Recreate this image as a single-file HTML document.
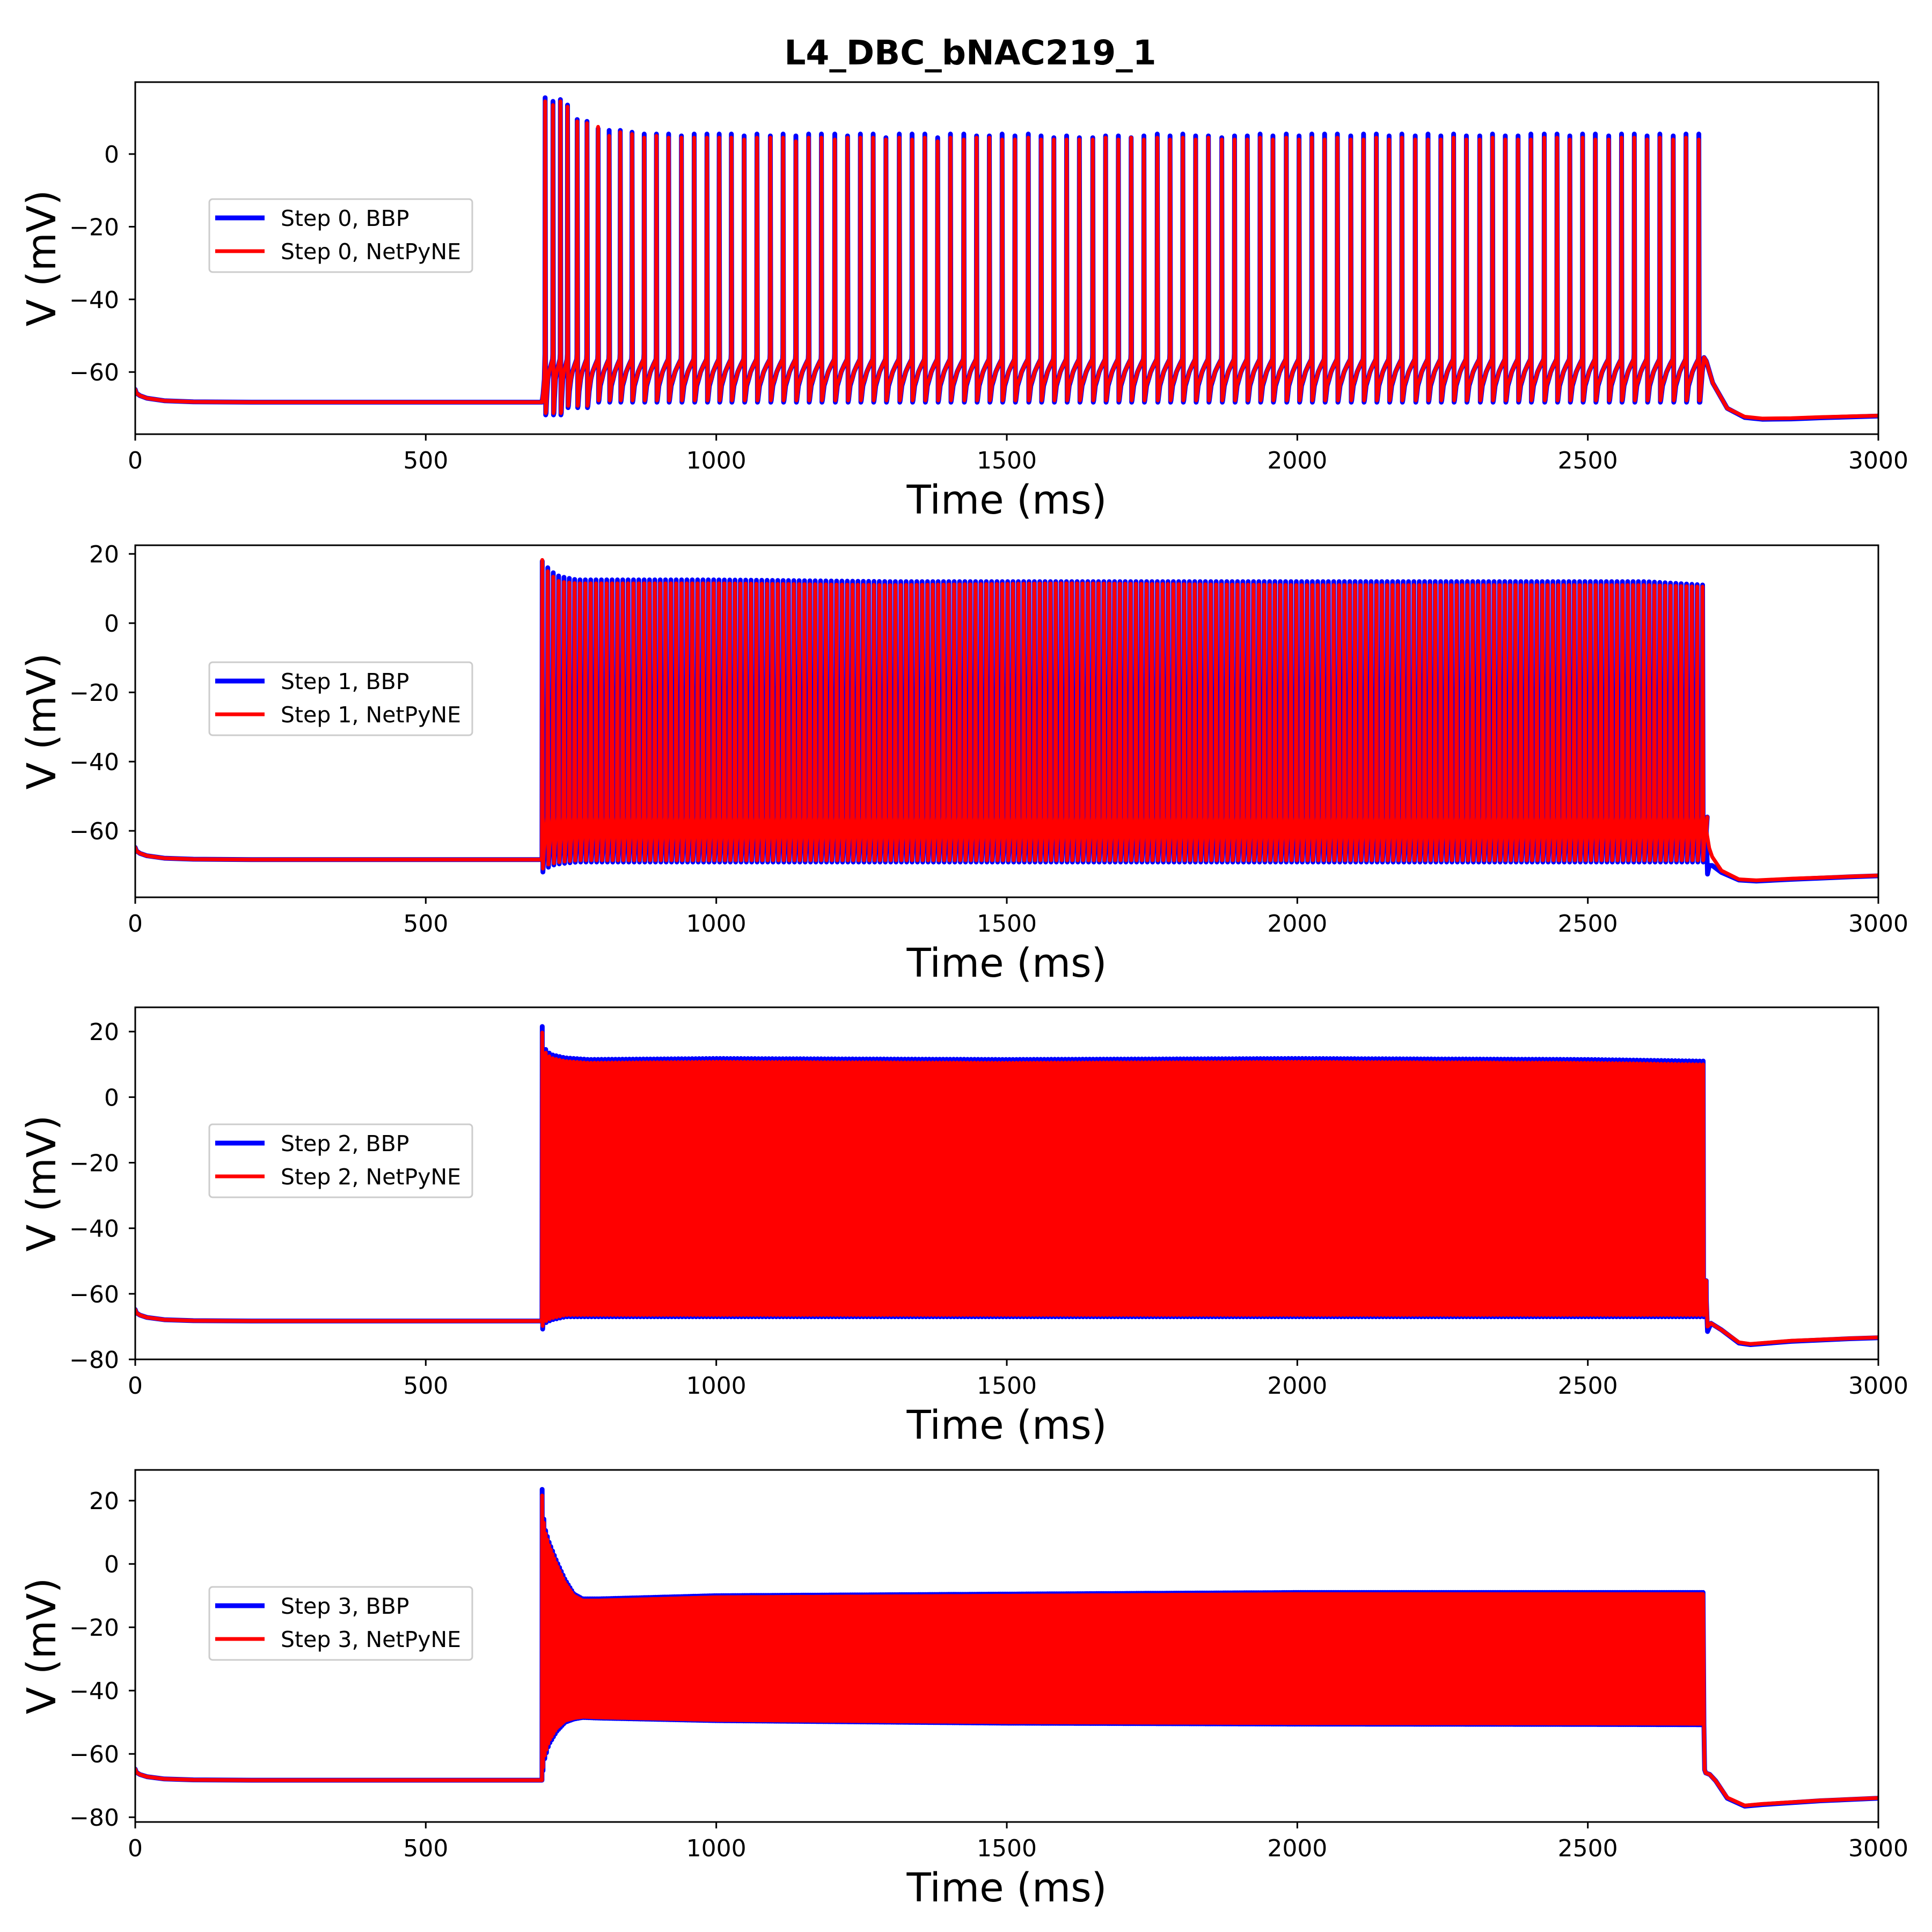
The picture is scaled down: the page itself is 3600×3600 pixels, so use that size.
<!DOCTYPE html>
<html><head><meta charset="utf-8">
<style>
html,body{margin:0;padding:0;background:#fff;}
svg{display:block;font-family:"DejaVu Sans","Liberation Sans",sans-serif;}
</style></head>
<body>
<svg id="fig" width="3600" height="3600" viewBox="0 0 3600 3600" xmlns="http://www.w3.org/2000/svg">
<rect width="3600" height="3600" fill="#fff"/>
<text x="1808" y="120" text-anchor="middle" font-size="63" font-weight="bold">L4_DBC_bNAC219_1</text>
</svg>
<script>
// ---------- data ----------
const xTicks = [0, 500, 1000, 1500, 2000, 2500, 3000];
const yTicks1 = [0, -20, -40, -60];
const yTicks2 = [20, 0, -20, -40, -60];
const yTicks3 = [20, 0, -20, -40, -60, -80];
const yTicks4 = [20, 0, -20, -40, -60, -80];
const yLims = [[-77.1, 19.8], [-79.2, 22.5], [-80, 27.4], [-81.5, 29.7]];
const stepNames = ["Step 0", "Step 1", "Step 2", "Step 3"];

// resting baseline before stimulus (all panels)
const restT = [0, 2, 8, 20, 50, 100, 200, 700];
const restV = [-64.8, -65.8, -66.5, -67.2, -67.9, -68.2, -68.3, -68.3];

// Panel 1 (Step 0): individual spikes
const spikeT1 = [705.5,719,731.7,744,760.6,777.5,796.6,815.7,834.8,855,876,897,918,940,962,984,1005,
1026,1048,1070,1093,1115,1137,1159,1181,1204,1226,1248,1270,1292,1315,1337,1359,1381,1403,1426,1448,1470,1492,1514,1537,1559,1581,1603,1625,1648,1670,1692,1714,1736,1759,1781,1803,1825,1847,1870,1892,1914,1936,1958,1981,2003,2025,2047,2069,2092,2114,2136,2158,2180,2203,2225,2247,2269,2291,2314,2336,2358,2380,2402,2425,2447,2469,2491,2513,2536,2558,2580,2602,2624,2647,2669,2691];
const peakB1 = [15.5,14.5,15,13.5,9.5,9,7,6.5,6.5,6,5.5,5.5,5.5,5,5.5,5.5,5.5,
5.5,5,5.5,5,5.5,5,5.5,5.5,5.5,5,5.5,5.5,4.5,5.5,5.5,5.5,4.5,5.5,5.5,5,5,5.5,5,5.5,5,4.5,5,4.5,4.5,5,5,4.5,5,5.5,5,5.5,5,5,4.5,5,5,5.5,5,5.5,5,5.5,5.5,5.5,5,5.5,5.5,5,5.5,5,5.5,5,5.5,5,5,5.5,5,5,5.5,5.5,5.5,5,5.5,5.5,5,5.5,5.5,5,5.5,5,5.5,5.5];
const peakN1 = [14.5,13.5,14.5,13,9,8.5,7.5,5,6,5.5,4.5,5,4.5,4.5,4.5,4.5,4.5,
4.5,4,4.5,4.5,4.5,3.5,4.5,4.5,4,4.5,4.5,4.5,4,4.5,4,4.5,3.5,4.5,4,4.5,4.5,4,4,4.5,4,4,4,4,4,4.5,4,4.5,4,4.5,4,4.5,4,4.5,4,4,4,4.5,4,4.5,4,4.5,4,4.5,4,4,4.5,4,4.5,4,4,4,4.5,4,4,4.5,4,4,4,4.5,4.5,4,4.5,4,4,4.5,4.5,4,4.5,4,4.5,4];
const troughB1 = -68.3, troughN1 = -67.8;
const tailT1 = [2693, 2697, 2700, 2704, 2715, 2740, 2770, 2800, 2850, 2900, 3000];
const tailVB1 = [-68.3, -60, -56, -57, -63, -70, -72.5, -73, -72.9, -72.6, -72.1];
const tailVN1 = [-67.8, -60, -56, -57, -63, -70, -72.3, -72.8, -72.7, -72.4, -72];

// Panels 2 & 3 : dense spiking, envelopes sampled on a time grid
const gridT2 = [700, 705, 715, 730, 760, 800, 1000, 1300, 1600, 2000, 2300, 2600, 2700];
const isi2 = [9.5, 9.5, 9.3, 9.2, 9.2, 9.2, 9.2, 9.2, 9.2, 9.2, 9.2, 9.2, 9.2];
const peakB2 = [18, 17, 15, 13.5, 12.5, 12.5, 12.5, 12, 12, 12, 12, 12, 11];
const peakN2 = [18.5, 16, 14, 12, 11.5, 11.5, 11.5, 11, 11.5, 11, 11, 11, 10.5];
const troughB2 = [-72, -71, -70, -69.5, -69, -69, -69, -69, -69, -69, -69, -69, -69];
const troughN2 = [-71, -70, -69.5, -69, -68.5, -68.5, -68.5, -68.5, -68.5, -68.5, -68.5, -68.5, -68.5];
const tailT2 = [2704, 2706, 2709, 2714, 2730, 2760, 2790, 2850, 2950, 3000];
const tailVB2 = [-60, -72.5, -70, -70, -72, -74.2, -74.5, -74, -73.3, -73];
const tailVN2 = [-60, -62, -65, -67.5, -71.5, -74, -74.3, -73.8, -73.2, -72.9];

const gridT3 = [700, 704, 715, 740, 780, 1000, 1500, 2000, 2500, 2700];
const isi3 = [6, 6, 6, 6, 6, 6, 6, 6, 6, 6];
const peakB3 = [22.5, 15, 13, 12, 11.5, 11.8, 11.5, 11.8, 11.5, 11];
const peakN3 = [20.5, 14, 12, 11, 10.5, 10.8, 10.5, 10.8, 10.5, 10];
const troughB3 = [-71, -69, -68, -67, -67, -67, -67, -67, -67, -67];
const troughN3 = [-70, -68.5, -67.5, -66.5, -66.5, -66.5, -66.5, -66.5, -66.5, -66.5];
const tailT3 = [2704, 2706, 2712, 2730, 2760, 2780, 2850, 2950, 3000];
const tailVB3 = [-62, -71.5, -69, -71, -75, -75.5, -74.5, -73.7, -73.4];
const tailVN3 = [-62, -70, -69, -71, -74.8, -75.3, -74.3, -73.6, -73.3];

// Panel 4 : depolarization block oscillation envelopes
const gridT4 = [700, 704, 712, 725, 740, 755, 770, 800, 1000, 1500, 2000, 2500, 2700];
const isi4 = [3, 3, 3, 3, 3, 3, 3, 3, 3, 3, 3, 3, 3];
const upperB4 = [24.5, 12, 7, 1, -5, -9.5, -11, -11, -10, -9.5, -9, -9, -9];
const upperN4 = [22.5, 11, 6, 0, -6, -10, -11.5, -11.5, -10.5, -10, -9.5, -9.5, -9.5];
const lowerB4 = [-68, -62, -57, -53, -50, -49, -48.5, -48.7, -49.5, -50.3, -50.6, -50.7, -50.8];
const lowerN4 = [-67, -61, -56, -52, -49.5, -48.7, -48.3, -48.5, -49.3, -50, -50.3, -50.4, -50.5];
const tailT4 = [2701, 2703, 2710, 2720, 2740, 2770, 2800, 2900, 3000];
const tailVB4 = [-65, -66, -66.5, -68.5, -74, -76.5, -76, -74.8, -74];
const tailVN4 = [-65, -66, -66.5, -68.5, -73.8, -76.3, -75.8, -74.7, -73.9];

// ---------- layout ----------
const NS = "http://www.w3.org/2000/svg";
const svg = document.getElementById("fig");
const L = 252, R = 3500, H = 656;
const tops = [153, 1016, 1877, 2739];
const yTickSets = [yTicks1, yTicks2, yTicks3, yTicks4];

function mk(tag, attrs, parent) {
  const e = document.createElementNS(NS, tag);
  for (const k in attrs) e.setAttribute(k, attrs[k]);
  (parent || svg).appendChild(e);
  return e;
}
function interp(ts, vs, t) {
  if (t <= ts[0]) return vs[0];
  for (let i = 1; i < ts.length; i++) {
    if (t <= ts[i]) { const f = (t - ts[i-1]) / (ts[i] - ts[i-1]); return vs[i-1] + f * (vs[i] - vs[i-1]); }
  }
  return vs[vs.length - 1];
}
function fmt(v) { return v < 0 ? "\u2212" + Math.abs(v) : String(v); }

function restPts(pts, tEnd) {
  for (let i = 0; i < restT.length; i++) if (restT[i] <= tEnd) pts.push([restT[i], restV[i]]);
}

function trace1(peaks, trough) {
  const pts = []; restPts(pts, 700);
  pts.push([702, -66]); pts.push([704, -62]);
  for (let i = 0; i < spikeT1.length; i++) {
    const s = spikeT1[i];
    pts.push([s - 0.4, -55]); pts.push([s, peaks[i]]); pts.push([s + 0.9, trough]);
    const n = i + 1 < spikeT1.length ? spikeT1[i + 1] : null;
    const tr = i < 3 ? trough - 3.5 : (i < 6 ? trough - 1.5 : trough);
    pts[pts.length - 1][1] = tr;
    if (n) {
      const d = n - s;
      pts.push([s + 1.6, tr + 0.5]); pts.push([s + 0.2 * d, tr + 4.5]); pts.push([s + 0.35 * d, -62]);
      pts.push([s + 0.5 * d, -60]); pts.push([s + 0.75 * d, -58]); pts.push([n - 0.8, -56.5]);
    }
  }
  return pts;
}
function tailPts(pts, ts, vs) { for (let i = 0; i < ts.length; i++) pts.push([ts[i], vs[i]]); }

function denseTrace(gridT, isi, peaks, troughs, tEnd) {
  const pts = []; restPts(pts, 700);
  let s = 700.5;
  while (s < tEnd) {
    const d = interp(gridT, isi, s);
    const pk = interp(gridT, peaks, s), tr = interp(gridT, troughs, s);
    pts.push([s, pk]); pts.push([s + 0.12 * d, tr]); pts.push([s + 0.3 * d, tr + 5]);
    pts.push([s + 0.88 * d, -56]);
    s += d;
  }
  return pts;
}
function oscTrace(gridT, isi, up, lo, tEnd) {
  const pts = []; restPts(pts, 700);
  let s = 700.3;
  while (s < tEnd) {
    const d = interp(gridT, isi, s);
    pts.push([s, interp(gridT, up, s)]);
    pts.push([s + 0.5 * d, interp(gridT, lo, s + 0.5 * d)]);
    s += d;
  }
  return pts;
}

function drawPanel(p) {
  const top = tops[p], bot = top + H;
  const [ymin, ymax] = yLims[p];
  const xs = t => L + (t / 3000) * (R - L);
  const ys = v => bot - (v - ymin) / (ymax - ymin) * H;
  const g = mk("g", {});
  
  
  const cp = mk("clipPath", { id: "clip" + p }, g);
  mk("rect", { x: L, y: top, width: R - L, height: H }, cp);

  let bb, nn;
  if (p === 0) {
    bb = trace1(peakB1, troughB1); tailPts(bb, tailT1, tailVB1);
    nn = trace1(peakN1, troughN1); tailPts(nn, tailT1, tailVN1);
  } else if (p === 1) {
    bb = denseTrace(gridT2, isi2, peakB2, troughB2, 2702); tailPts(bb, tailT2, tailVB2);
    nn = denseTrace(gridT2, isi2, peakN2, troughN2, 2702); tailPts(nn, tailT2, tailVN2);
  } else if (p === 2) {
    bb = denseTrace(gridT3, isi3, peakB3, troughB3, 2701); tailPts(bb, tailT3, tailVB3);
    nn = denseTrace(gridT3, isi3, peakN3, troughN3, 2701); tailPts(nn, tailT3, tailVN3);
  } else {
    bb = oscTrace(gridT4, isi4, upperB4, lowerB4, 2700); tailPts(bb, tailT4, tailVB4);
    nn = oscTrace(gridT4, isi4, upperN4, lowerN4, 2700); tailPts(nn, tailT4, tailVN4);
  }
  const toD = pts => pts.map((q, i) => (i ? "L" : "M") + xs(q[0]).toFixed(1) + " " + ys(q[1]).toFixed(1)).join("");
  const gl = mk("g", { "clip-path": "url(#clip" + p + ")" }, g);
  const lb = mk("path", { d: toD(bb), fill: "none", stroke: "#0000ff", "stroke-width": 9, "stroke-linejoin": "round", "stroke-linecap": "round" }, gl);
  
  
  const ln = mk("path", { d: toD(nn), fill: "none", stroke: "#ff0000", "stroke-width": 7, "stroke-linejoin": "round", "stroke-linecap": "round" }, gl);
  
  

  const fr = mk("rect", { x: L, y: top, width: R - L, height: H, fill: "none", stroke: "#000", "stroke-width": 3 }, g);
  
  

  xTicks.forEach(t => {
    const x = xs(t);
    mk("line", { x1: x, y1: bot, x2: x, y2: bot + 12, stroke: "#000", "stroke-width": 3 }, g);
    const tx = mk("text", { x: x, y: bot + 64, "text-anchor": "middle", "font-size": 44 }, g);
    tx.textContent = String(t);
    
    
  });
  yTickSets[p].forEach(v => {
    const y = ys(v);
    mk("line", { x1: L - 12, y1: y, x2: L, y2: y, stroke: "#000", "stroke-width": 3 }, g);
    const ty = mk("text", { x: 222, y: y + 16, "text-anchor": "end", "font-size": 44 }, g);
    ty.textContent = fmt(v);
    
    
  });
  const xl = mk("text", { x: (L + R) / 2, y: bot + 148, "text-anchor": "middle", "font-size": 74 }, g);
  xl.textContent = "Time (ms)";
  
  
  const cy = top + H / 2;
  const yl = mk("text", { x: 0, y: 0, "text-anchor": "middle", "font-size": 74, transform: "translate(103," + cy + ") rotate(-90)" }, g);
  yl.textContent = "V (mV)";
  
  

  const lg = mk("g", {}, g);
  
  
  mk("rect", { x: 390, y: top + 218, width: 490, height: 136, rx: 6, fill: "#fff", "fill-opacity": 0.8, stroke: "#cccccc", "stroke-width": 3 }, lg);
  mk("line", { x1: 401, y1: top + 253, x2: 493, y2: top + 253, stroke: "#0000ff", "stroke-width": 9 }, lg);
  mk("line", { x1: 401, y1: top + 315, x2: 493, y2: top + 315, stroke: "#ff0000", "stroke-width": 7 }, lg);
  const t1 = mk("text", { x: 523, y: top + 268, "font-size": 41 }, lg);
  t1.textContent = stepNames[p] + ", BBP";
  
  
  const t2 = mk("text", { x: 523, y: top + 330, "font-size": 41 }, lg);
  t2.textContent = stepNames[p] + ", NetPyNE";
  
  
}
for (let p = 0; p < 4; p++) drawPanel(p);
</script>
</body></html>
